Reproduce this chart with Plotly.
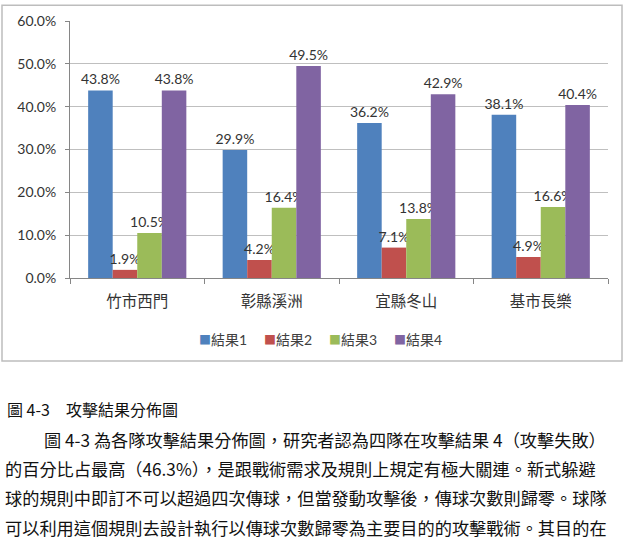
import plotly.graph_objects as go

categories = ["竹市西門", "彰縣溪洲", "宜縣冬山", "基市長樂"]
series_names = ["結果1", "結果2", "結果3", "結果4"]
result1 = [43.8, 29.9, 36.2, 38.1]
result2 = [1.9, 4.2, 7.1, 4.9]
result3 = [10.5, 16.4, 13.8, 16.6]
result4 = [43.8, 49.5, 42.9, 40.4]
colors = ["#4F81BD", "#C0504D", "#9BBB59", "#8064A2"]
y_ticks = [0, 10, 20, 30, 40, 50, 60]
y_tick_labels = [f"{v:.1f}%" for v in y_ticks]

caption = "圖 4-3　攻擊結果分佈圖"
paragraph = [
    "圖 4-3 為各隊攻擊結果分佈圖，研究者認為四隊在攻擊結果 4（攻擊失敗）",
    "的百分比占最高（46.3%），是跟戰術需求及規則上規定有極大關連。新式躲避",
    "球的規則中即訂不可以超過四次傳球，但當發動攻擊後，傳球次數則歸零。球隊",
    "可以利用這個規則去設計執行以傳球次數歸零為主要目的的攻擊戰術。其目的在",
]

W, H = 625, 542
L, R, T, B = 70, 608, 18, 278

def px(x):
    return (x - L) / (R - L)

def py(y):
    return (B - y) / (B - T)

FONT = "Lato, 'Noto Sans CJK TC', sans-serif"
CJK = "'Noto Sans CJK TC', sans-serif"

fig = go.Figure()
for name, vals, col in zip(series_names, [result1, result2, result3, result4], colors):
    fig.add_trace(go.Bar(
        x=categories, y=vals, name=name, marker_color=col,
        marker_line_width=0,
        text=[f"{v:.1f}%" for v in vals], textposition="outside",
        textfont=dict(size=14, color="#333333", family=FONT),
        constraintext="none", cliponaxis=False, showlegend=False,
    ))

fig.update_layout(
    width=W, height=H,
    margin=dict(l=L, r=W - R, t=T, b=H - B),
    paper_bgcolor="white", plot_bgcolor="white",
    barmode="group", bargap=0.27, bargroupgap=0,
    font=dict(family=FONT, color="#333333"),
    xaxis=dict(showline=True, linecolor="#868686", linewidth=1,
               ticks="outside", tickson="boundaries", ticklen=5, tickcolor="#868686",
               tickfont=dict(size=15.5, family=CJK, color="#333333"),
               ticklabelstandoff=9, showgrid=False),
    yaxis=dict(range=[0, 60], tickvals=y_ticks, ticktext=y_tick_labels,
               showline=True, linecolor="#868686", linewidth=1,
               ticks="outside", ticklen=4, tickcolor="#868686",
               tickfont=dict(size=14, family=FONT, color="#333333"),
               ticklabelstandoff=6,
               showgrid=True, gridcolor="#BFBFBF", gridwidth=1, zeroline=False),
)

# chart frame
fig.add_shape(type="rect", xref="paper", yref="paper",
              x0=px(2), x1=px(622), y0=py(362), y1=py(2),
              line=dict(color="#BDBDBD", width=1.5), layer="below")

# legend drawn as coloured squares + labels
legend_x = [197, 262, 327, 392]
for name, col, lx in zip(series_names, colors, legend_x):
    fig.add_annotation(x=px(lx), y=py(340), xref="paper", yref="paper",
                       text=f"<span style='color:{col};font-size:12px'>■</span>{name}",
                       showarrow=False, xanchor="left", yanchor="middle",
                       font=dict(size=14, family=FONT, color="#404040"))

fig.add_annotation(x=px(5), y=py(411), xref="paper", yref="paper", text=caption,
                   showarrow=False, xanchor="left", yanchor="middle",
                   font=dict(size=16, family=CJK, color="#111111"))
line_y = [441, 471, 500, 530]
for i, (line, yy) in enumerate(zip(paragraph, line_y)):
    fig.add_annotation(x=px(42 if i == 0 else 3), y=py(yy), xref="paper", yref="paper",
                       text=line, showarrow=False, xanchor="left", yanchor="middle",
                       font=dict(size=17.2, family=CJK, color="#111111"))

fig.write_html("out.html")
